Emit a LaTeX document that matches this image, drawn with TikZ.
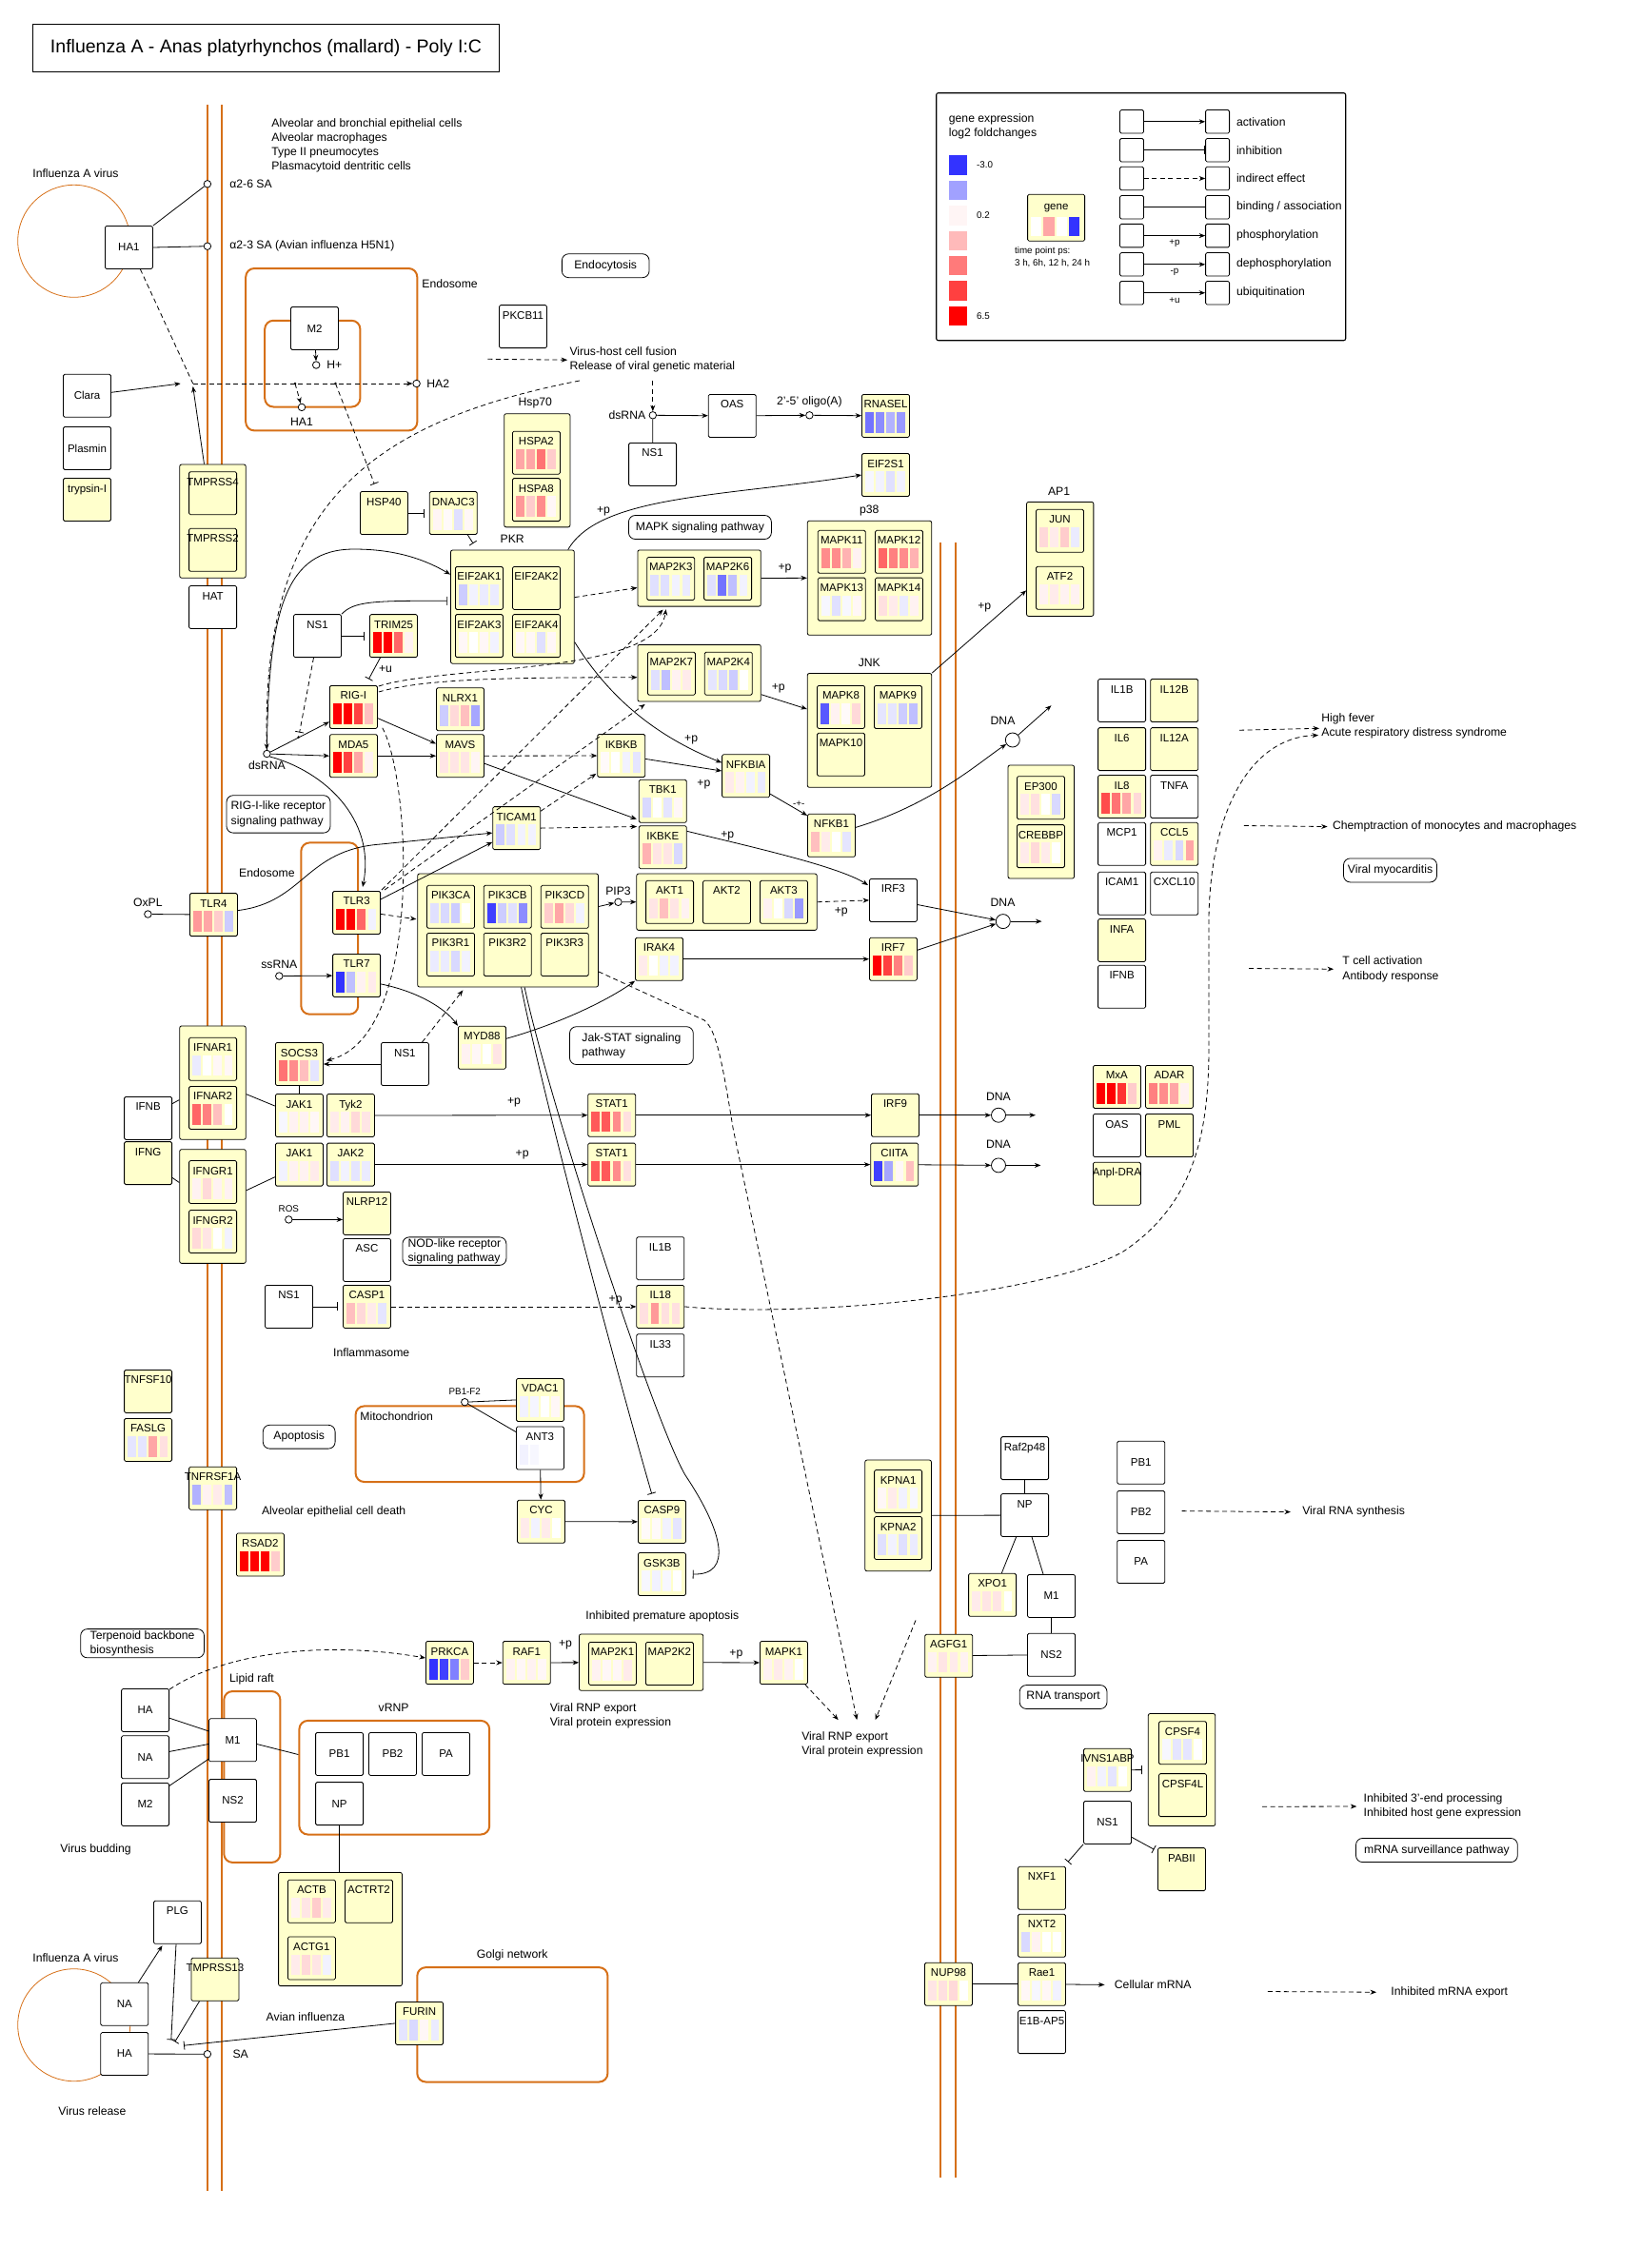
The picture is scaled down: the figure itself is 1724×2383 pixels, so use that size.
\documentclass[tikz,border=0pt]{standalone}
\usepackage{fontspec}
\setmainfont{Liberation Sans}
\usepackage{tikz}
\usetikzlibrary{calc, positioning, arrows.meta}
\definecolor{kyellow}{RGB}{255,255,204}
\definecolor{korange}{RGB}{214,112,24}
\newcommand{\gnfont}{\fontsize{11.5}{13}\selectfont}
\newcommand{\lbfont}{\fontsize{12.2}{15.2}\selectfont}
\newcommand{\smfont}{\fontsize{9.8}{12.3}\selectfont}
\newcommand{\bars}[5]{%
  \foreach \bc [count=\bi from 0] in {#2,#3,#4,#5}
    \fill[\bc] ([shift={(4+11.1*\bi,19)}]#1.north west) rectangle ++(8.7,21.5);%
}
\tikzset{
  gene/.style={draw, rounded corners=1.5pt, fill=kyellow, minimum width=50pt, minimum height=45pt,
    inner xsep=-8pt, inner ysep=1pt, text height=8.5pt, text depth=24.5pt, font=\gnfont},
  genew/.style={gene, fill=white},
  prot/.style={draw, rounded corners=1.5pt, fill=white, minimum width=50pt, minimum height=45pt,
    inner xsep=-8pt, font=\gnfont},
  grp/.style={draw, rounded corners=2pt, fill=kyellow, inner sep=0pt},
  comp/.style={draw=korange, line width=2pt, rounded corners=9pt},
  memb/.style={draw=korange, line width=2pt},
  pway/.style={draw, rounded corners=7pt, font=\lbfont, align=left, inner sep=2pt},
  cpd/.style={circle, draw, fill=white, minimum size=7.5pt, inner sep=0pt},
  dna/.style={circle, draw, fill=white, minimum size=15pt, inner sep=0pt},
  lab/.style={font=\lbfont, inner sep=1pt},
  note/.style={font=\lbfont, align=left, anchor=west, inner sep=0pt},
  dsh/.style={dash pattern=on 5pt off 3.5pt},
  act/.style={>={Stealth[length=6.5pt,width=5pt]}, ->},
  ind/.style={act, dsh},
  inh/.style={-{Bar[width=9pt]}},
  bind/.style={},
}
\begin{document}
\begin{tikzpicture}[x=1pt, y=-1pt, line width=0.8pt]
\useasboundingbox (0,0) rectangle (1724,2383);
\node[draw, minimum width=490pt, minimum height=50pt, font=\fontsize{19.5}{22}\selectfont] (title) at (279.5,50.3) {Influenza A - Anas platyrhynchos (mallard) - Poly I:C};

\draw[memb] (218.3,110) -- (218.3,2302);
\draw[memb] (233,110) -- (233,2302);
\draw[memb] (988,570) -- (988,2288);
\draw[memb] (1003.5,570) -- (1003.5,2288);
\draw[korange] (77.7,253.3) circle[radius=59pt];
\draw[korange] (77.7,2127.7) circle[radius=59pt];
\draw[comp] (258.2,282) rectangle (438.3,452.4);
\draw[comp] (278.2,336.8) rectangle (378.4,427.5);
\draw[comp] (316.3,885.4) rectangle (376.2,1065.7);
\draw[comp] (373.6,1477.4) rectangle (613.6,1557);
\draw[comp] (235.3,1777) rectangle (294.4,1956.9);
\draw[comp] (438.3,2067.1) rectangle (638.4,2187.5);
\node[comp, minimum width=199.8pt, minimum height=119.6pt] (vrnp) at (414.3,1867.7) {};

\node[grp, minimum width=69.5pt, minimum height=119.2pt] (tmpg) at (223.5,547.6) {};
\node[grp, minimum width=69.2pt, minimum height=119.1pt] (hsp70) at (564.3,494.3) {};
\node[grp, minimum width=129.8pt, minimum height=119.2pt] (pkr) at (538.4,637.6) {};
\node[grp, minimum width=129.4pt, minimum height=59.2pt] (m2k3g) at (734.6,607.5) {};
\node[grp, minimum width=129.4pt, minimum height=59.7pt] (m2k7g) at (734.6,707.2) {};
\node[grp, minimum width=130.5pt, minimum height=120pt] (p38) at (913.5,607.3) {};
\node[grp, minimum width=130.5pt, minimum height=119.8pt] (jnk) at (913.5,767.4) {};
\node[grp, minimum width=70.3pt, minimum height=120pt] (ap1) at (1113.7,587.4) {};
\node[grp, minimum width=69.5pt, minimum height=119pt] (ep300g) at (1093.8,863.5) {};
\node[grp, minimum width=189.7pt, minimum height=119pt] (pik3) at (533.6,977.5) {};
\node[grp, minimum width=189.4pt, minimum height=59.3pt] (aktg) at (763.5,947.7) {};
\node[grp, minimum width=69.5pt, minimum height=119.3pt] (ifnarg) at (223.5,1137.6) {};
\node[grp, minimum width=69.5pt, minimum height=119.7pt] (ifngrg) at (223.5,1267.5) {};
\node[grp, minimum width=69.6pt, minimum height=116.7pt] (kpnag) at (943.6,1592.4) {};
\node[grp, minimum width=130.2pt, minimum height=59.3pt] (m2k1g) at (673.6,1746.6) {};
\node[grp, minimum width=129.8pt, minimum height=119.2pt] (actin) at (357.5,2027) {};
\node[grp, minimum width=70.4pt, minimum height=118pt] (cpsfg) at (1241.5,1859.5) {};

\node[note] (cells) at (285,152.9) {Alveolar and bronchial epithelial cells\\Alveolar macrophages\\Type II pneumocytes\\Plasmacytoid dentritic cells};
\node[note] (iav1) at (34,182.5) {Influenza A virus};
\node[note] (iav2) at (34,2057.3) {Influenza A virus};
\node[note] (endo1t) at (443,297.7) {Endosome};
\node[lab] (endo2t) at (280.4,917.6) {Endosome};
\node[note] (mitot) at (378,1488.5) {Mitochondrion};
\node[lab] (lipidt) at (264.5,1764.8) {Lipid raft};
\node[lab] (vrnpt) at (413.6,1794.2) {vRNP};
\node[lab] (golgit) at (538.2,2054.6) {Golgi network};
\node[lab] (budt) at (100.6,1943.2) {Virus budding};
\node[lab] (relt) at (96.9,2218.4) {Virus release};
\node[lab] (aviant) at (321,2118.7) {Avian influenza};
\node[lab] (inflt) at (390.2,1421.5) {Inflammasome};
\node[lab] (deatht) at (350.7,1588.7) {Alveolar epithelial cell death};
\node[lab] (ipat) at (695.8,1698.6) {Inhibited premature apoptosis};
\node[note] (rnpa) at (577.4,1803) {Viral RNP export\\Viral protein expression};
\node[note] (rnpb) at (841.9,1833.2) {Viral RNP export\\Viral protein expression};
\node[note] (mrna) at (1170.5,2085.5) {Cellular mRNA};
\node[note] (fever) at (1388,763.1) {High fever\\Acute respiratory distress syndrome};
\node[note] (chemo) at (1399.6,868.6) {Chemptraction of monocytes and macrophages};
\node[note] (tcell) at (1410,1018.3) {T cell activation\\Antibody response};
\node[note] (vrs) at (1367.9,1588.7) {Viral RNA synthesis};
\node[note] (inh3e) at (1432.3,1898) {Inhibited 3'-end processing\\Inhibited host gene expression};
\node[note] (inhme) at (1461,2093.3) {Inhibited mRNA export};
\node[note] (fusion) at (598.1,378.2) {Virus-host cell fusion\\Release of viral genetic material};

\node[pway, minimum width=91.7pt, minimum height=24.9pt] (endocyt) at (636.2,279.2) {Endocytosis};
\node[pway, minimum width=150pt, minimum height=25pt] (mapkp) at (735.4,554) {MAPK signaling pathway};
\node[pway, minimum width=109pt, minimum height=39.4pt] (riglp) at (292.5,855.4) {RIG-I-like receptor\\signaling pathway};
\node[pway, minimum width=129.8pt, minimum height=39.8pt] (jakp) at (663.4,1098.6) {Jak-STAT signaling\\pathway};
\node[pway, minimum width=109pt, minimum height=29.5pt, inner ysep=0pt] (nodp) at (477.4,1314.6) {NOD-like receptor\\signaling pathway};
\node[pway, minimum width=75.8pt, minimum height=24.8pt] (apopp) at (314.2,1509.7) {Apoptosis};
\node[pway, minimum width=129.8pt, minimum height=30.2pt, inner ysep=0pt] (terpp) at (149.6,1726.7) {Terpenoid backbone\\biosynthesis};
\node[pway, minimum width=98pt, minimum height=25pt] (myop) at (1460.5,914.4) {Viral myocarditis};
\node[pway, minimum width=91.8pt, minimum height=24.9pt] (rnatp) at (1117.1,1783) {RNA transport};
\node[pway, minimum width=169.8pt, minimum height=25.1pt] (mrnap) at (1509.4,1944) {mRNA surveillance pathway};

\node[prot] (ha1v) at (135.4,260) {HA1};
\node[cpd] (a26) at (217.9,193.3) {};
\node[cpd] (a23) at (217.9,258.7) {};
\node[note] (a26t) at (241,193.3) {α2-6 SA};
\node[note] (a23t) at (241,258.7) {α2-3 SA (Avian influenza H5N1)};
\node[prot] (clara) at (91.5,415.8) {Clara};
\node[prot] (plasmin) at (91.5,471) {Plasmin};
\node[gene] (trypsin) at (91.5,525) {trypsin-I};
\node[gene] (tmprss4) at (223.6,518.2) {TMPRSS4};
\node[gene] (tmprss2) at (223.6,577.8) {TMPRSS2};
\node[genew] (hat) at (223.6,638) {HAT};
\node[prot] (m2e) at (330.5,345) {M2};
\node[cpd] (hplus) at (332.2,383.5) {};
\node[note] (hplust) at (343,383.5) {H+};
\node[cpd] (ha1e) at (317,427.9) {};
\node[lab] (ha1et) at (317,443) {HA1};
\node[cpd] (ha2) at (437.6,403) {};
\node[note] (ha2t) at (448,403) {HA2};
\node[genew] (pkcb11) at (549.5,343.1) {PKCB11};
\node[gene] (hsp40) at (403.4,539) {HSP40};
\node[gene] (dnajc3) at (476.3,539) {DNAJC3}; \bars{dnajc3}{red!4}{red!2}{blue!12}{red!3}
\node[lab] (hsp70t) at (562.3,423.6) {Hsp70};
\node[gene] (hspa2) at (563.4,475.7) {HSPA2}; \bars{hspa2}{red!35}{red!35}{red!55}{red!20}
\node[gene] (hspa8) at (563.4,525.1) {HSPA8}; \bars{hspa8}{red!40}{red!20}{red!45}{red!3}

\node[cpd] (dsrna2) at (685.8,436.3) {};
\node[lab] (dsrna2t) [left=2pt of dsrna2] {dsRNA};
\node[genew] (oas) at (769.2,436.9) {OAS};
\node[genew] (ns1a) at (685.6,487.9) {NS1};
\node[cpd] (oligo) at (850.4,436.3) {};
\node[lab] (oligot) [above=3pt of oligo] {2'-5' oligo(A)};
\node[gene] (rnasel) at (930.5,436.9) {RNASEL}; \bars{rnasel}{blue!55}{blue!45}{blue!30}{blue!40}
\node[gene] (eif2s1) at (930.5,499) {EIF2S1}; \bars{eif2s1}{blue!3}{blue!5}{blue!12}{blue!5}

\node[lab] (pkrt) at (538.2,566.4) {PKR};
\node[gene] (eif2ak1) at (503.4,617.9) {EIF2AK1}; \bars{eif2ak1}{blue!20}{blue!5}{blue!8}{blue!8}
\node[gene] (eif2ak2) at (563.5,617.9) {EIF2AK2};
\node[gene] (eif2ak3) at (503.4,668.1) {EIF2AK3}; \bars{eif2ak3}{red!3}{white}{red!3}{blue!5}
\node[gene] (eif2ak4) at (563.5,668.1) {EIF2AK4}; \bars{eif2ak4}{red!3}{red!3}{blue!12}{red!3}
\node[gene] (map2k3) at (704.7,607.9) {MAP2K3}; \bars{map2k3}{blue!12}{blue!12}{blue!5}{blue!8}
\node[gene] (map2k6) at (764.6,607.9) {MAP2K6}; \bars{map2k6}{blue!12}{blue!55}{blue!25}{blue!5}
\node[gene] (map2k7) at (705.4,707.7) {MAP2K7}; \bars{map2k7}{blue!12}{blue!25}{red!5}{red!8}
\node[gene] (map2k4) at (765.3,707.7) {MAP2K4}; \bars{map2k4}{blue!10}{blue!15}{blue!20}{white}
\node[lab] (p38t) at (913.3,536.5) {p38};
\node[gene] (mapk11) at (884.3,579.8) {MAPK11}; \bars{mapk11}{red!45}{red!45}{red!30}{red!5}
\node[gene] (mapk12) at (944.5,579.8) {MAPK12}; \bars{mapk12}{red!60}{red!50}{red!45}{red!30}
\node[gene] (mapk13) at (884.3,629.6) {MAPK13}; \bars{mapk13}{blue!3}{blue!12}{blue!3}{red!3}
\node[gene] (mapk14) at (944.5,629.6) {MAPK14}; \bars{mapk14}{red!12}{red!8}{blue!8}{red!5}
\node[lab] (jnkt) at (913.3,696.4) {JNK};
\node[gene] (mapk8) at (883.5,742.9) {MAPK8}; \bars{mapk8}{blue!65}{red!5}{red!2}{red!15}
\node[gene] (mapk9) at (943.4,742.9) {MAPK9}; \bars{mapk9}{blue!10}{blue!10}{blue!20}{blue!25}
\node[gene] (mapk10) at (883.5,792.7) {MAPK10};
\node[lab] (ap1t) at (1112.6,516.6) {AP1};
\node[gene] (jun) at (1113.5,557.8) {JUN}; \bars{jun}{red!15}{red!8}{red!20}{blue!8}
\node[gene] (atf2) at (1113.5,617.7) {ATF2}; \bars{atf2}{red!5}{red!8}{red!5}{red!5}

\node[genew] (ns1b) at (333.5,668.1) {NS1};
\node[gene] (trim25) at (413.5,668.1) {TRIM25}; \bars{trim25}{red}{red}{red!60}{red!5}
\node[gene] (rigi) at (371.4,742.9) {RIG-I}; \bars{rigi}{red}{red}{red!75}{red!25}
\node[gene] (mda5) at (371.4,794.2) {MDA5}; \bars{mda5}{red}{red!75}{red!35}{red!5}
\node[gene] (nlrx1) at (483.5,745.2) {NLRX1}; \bars{nlrx1}{blue!20}{red!15}{red!25}{blue!35}
\node[gene] (mavs) at (483.5,794.2) {MAVS}; \bars{mavs}{red!10}{red!10}{red!10}{red!4}
\node[cpd] (dsrna1) at (280.4,792) {};
\node[lab] (dsrna1t) [below=2pt of dsrna1] {dsRNA};

\node[cpd] (oxpl) at (155.4,960.5) {};
\node[lab] (oxplt) [above=2pt of oxpl] {OxPL};
\node[gene] (tlr4) at (224.4,961.1) {TLR4}; \bars{tlr4}{red!40}{red!35}{red!20}{blue!20}
\node[gene] (tlr3) at (374.6,958.9) {TLR3}; \bars{tlr3}{red}{red}{red!60}{blue!5}
\node[gene] (tlr7) at (374.6,1024.9) {TLR7}; \bars{tlr7}{blue!80}{blue!25}{red!5}{red!8}
\node[cpd] (ssrna) at (293.3,1025.5) {};
\node[lab] (ssrnat) [above=2pt of ssrna] {ssRNA};
\node[gene] (ticam1) at (542.7,870.1) {TICAM1}; \bars{ticam1}{blue!20}{blue!12}{blue!5}{blue!5}
\node[gene] (pik3ca) at (473.5,952.8) {PIK3CA}; \bars{pik3ca}{blue!12}{blue!15}{blue!20}{white}
\node[gene] (pik3cb) at (533.2,952.8) {PIK3CB}; \bars{pik3cb}{blue!75}{blue!20}{blue!12}{blue!45}
\node[gene] (pik3cd) at (593.3,952.8) {PIK3CD}; \bars{pik3cd}{red!20}{red!35}{red!15}{blue!5}
\node[gene] (pik3r1) at (473.5,1002.9) {PIK3R1}; \bars{pik3r1}{blue!8}{blue!8}{blue!15}{blue!5}
\node[gene] (pik3r2) at (533.2,1002.9) {PIK3R2};
\node[gene] (pik3r3) at (593.3,1002.9) {PIK3R3};
\node[genew] (ns1c) at (425.4,1118) {NS1};
\node[gene] (socs3) at (314.4,1118) {SOCS3}; \bars{socs3}{red!55}{red!45}{red!25}{blue!10}
\node[gene] (myd88) at (506.4,1100.7) {MYD88}; \bars{myd88}{red!5}{red!3}{white}{red!10}

\node[gene] (ikbkb) at (652.7,794) {IKBKB}; \bars{ikbkb}{red!2}{white}{blue!5}{blue!10}
\node[gene] (nfkbia) at (783.6,815.2) {NFKBIA}; \bars{nfkbia}{red!8}{red!5}{blue!5}{blue!8}
\node[gene] (nfkb1) at (873.5,877.8) {NFKB1}; \bars{nfkb1}{red!25}{red!8}{white}{blue!10}
\node[gene] (tbk1) at (696.3,841.8) {TBK1}; \bars{tbk1}{blue!15}{white}{blue!10}{red!3}
\node[gene] (ikbke) at (696.3,890.2) {IKBKE}; \bars{ikbke}{red!30}{red!10}{red!10}{blue!15}
\node[cpd] (pip3) at (649.5,947.8) {};
\node[lab] (pip3t) [above=2pt of pip3] {PIP3};
\node[gene] (akt1) at (703.6,947.8) {AKT1}; \bars{akt1}{red!10}{red!25}{red!10}{red!5}
\node[gene] (akt2) at (763.5,947.8) {AKT2};
\node[gene] (akt3) at (823.4,947.8) {AKT3}; \bars{akt3}{red!5}{white}{blue!15}{blue!40}
\node[genew] (irf3) at (938.4,945.9) {IRF3};
\node[gene] (irf7) at (938.4,1007.7) {IRF7}; \bars{irf7}{red}{red!75}{red!50}{red!20}
\node[gene] (irak4) at (692.5,1007.7) {IRAK4}; \bars{irak4}{red!8}{white}{blue!5}{blue!5}
\node[dna] (dna1) at (1063.8,777.5) {};
\node[lab] (dna1t) at (1053.5,757.2) {DNA};
\node[dna] (dna2) at (1053.8,968.1) {};
\node[lab] (dna2t) at (1053.5,947.8) {DNA};
\node[dna] (dna3) at (1049,1171.7) {};
\node[lab] (dna3t) at (1049,1152.6) {DNA};
\node[dna] (dna4) at (1049,1224.4) {};
\node[lab] (dna4t) at (1049,1202.2) {DNA};

\node[genew] (il1b) at (1178.6,736) {IL1B};
\node[gene] (il12b) at (1233.7,736) {IL12B};
\node[gene] (il6) at (1178.6,787.1) {IL6};
\node[gene] (il12a) at (1233.7,787.1) {IL12A};
\node[gene] (il8) at (1178.6,837) {IL8}; \bars{il8}{red!70}{red!55}{red!35}{red!15}
\node[genew] (tnfa) at (1233.7,837) {TNFA};
\node[genew] (mcp1) at (1178.6,886.8) {MCP1};
\node[gene] (ccl5) at (1233.7,886.8) {CCL5}; \bars{ccl5}{red!5}{blue!8}{blue!15}{red!35}
\node[genew] (icam1) at (1178.6,938.8) {ICAM1};
\node[genew] (cxcl10) at (1233.7,938.8) {CXCL10};
\node[gene] (infa) at (1178.6,988) {INFA};
\node[genew] (ifnb2) at (1178.6,1036.8) {IFNB};
\node[gene] (ep300) at (1093.4,838.2) {EP300}; \bars{ep300}{red!8}{red!12}{white}{blue!15}
\node[gene] (crebbp) at (1093.4,889.1) {CREBBP}; \bars{crebbp}{red!8}{red!15}{red!8}{white}
\node[gene] (mxa) at (1173.4,1141.9) {MxA}; \bars{mxa}{red}{red}{red!80}{red!20}
\node[gene] (adar) at (1228.5,1141.9) {ADAR}; \bars{adar}{red!50}{red!45}{red!35}{red!5}
\node[genew] (oas2) at (1173.4,1193) {OAS};
\node[gene] (pml) at (1228.5,1193) {PML};
\node[gene] (anpl) at (1173.4,1243.7) {Anpl-DRA};

\node[genew] (ifnb) at (155.6,1174.9) {IFNB};
\node[gene] (ifnar1) at (223.6,1112.8) {IFNAR1}; \bars{ifnar1}{blue!8}{white}{red!3}{red!3}
\node[gene] (ifnar2) at (223.6,1163.9) {IFNAR2}; \bars{ifnar2}{red!60}{red!50}{red!25}{white}
\node[gene] (jak1a) at (314.4,1172) {JAK1}; \bars{jak1a}{blue!3}{red!5}{red!5}{red!3}
\node[gene] (tyk2) at (368.4,1172) {Tyk2}; \bars{tyk2}{red!8}{red!5}{red!15}{red!10}
\node[gene] (stat1a) at (642.7,1171.7) {STAT1}; \bars{stat1a}{red!65}{red!65}{red!45}{red!12}
\node[gene] (irf9) at (940.5,1171.7) {IRF9};
\node[gene] (ifng) at (155.6,1222.1) {IFNG};
\node[gene] (ifngr1) at (223.6,1242) {IFNGR1}; \bars{ifngr1}{red!5}{red!15}{red!5}{red!5}
\node[gene] (ifngr2) at (223.6,1294) {IFNGR2}; \bars{ifngr2}{red!15}{red!10}{white}{blue!5}
\node[gene] (jak1b) at (314.4,1223.6) {JAK1}; \bars{jak1b}{blue!5}{red!5}{red!5}{red!8}
\node[gene] (jak2) at (368.4,1223.6) {JAK2}; \bars{jak2}{blue!12}{blue!5}{blue!10}{blue!8}
\node[gene] (stat1b) at (642.7,1223.6) {STAT1}; \bars{stat1b}{red!65}{red!65}{red!45}{red!12}
\node[gene] (ciita) at (939.7,1223.6) {CIITA}; \bars{ciita}{blue!75}{blue!35}{red!3}{red!25}

\node[cpd] (ros) at (303.3,1281.4) {};
\node[lab, font=\smfont] (rost) [above=2pt of ros] {ROS};
\node[gene] (nlrp12) at (385.5,1274.9) {NLRP12};
\node[genew] (asc) at (385.5,1323.9) {ASC};
\node[genew] (ns1d) at (303.5,1372.9) {NS1};
\node[gene] (casp1) at (385.5,1372.9) {CASP1}; \bars{casp1}{red!25}{red!15}{red!8}{blue!10}
\node[genew] (il1b2) at (693.8,1322.2) {IL1B};
\node[gene] (il18) at (693.8,1372.9) {IL18}; \bars{il18}{red!12}{red!40}{red!12}{red!12}
\node[genew] (il33) at (693.8,1424.2) {IL33};

\node[gene] (tnfsf10) at (155.6,1461.9) {TNFSF10};
\node[gene] (faslg) at (155.6,1512.9) {FASLG}; \bars{faslg}{blue!10}{blue!10}{red!35}{red!12}
\node[gene] (tnfrsf1a) at (223.6,1563.7) {TNFRSF1A}; \bars{tnfrsf1a}{blue!30}{red!5}{red!8}{blue!25}
\node[cpd] (pbf2) at (488.3,1473.2) {};
\node[lab, font=\smfont] (pbf2t) [above=2pt of pbf2] {PB1-F2};
\node[gene] (vdac1) at (567.4,1470.9) {VDAC1}; \bars{vdac1}{blue!5}{blue!4}{white}{red!3}
\node[genew] (ant3) at (567.4,1521.4) {ANT3}; \bars{ant3}{blue!5}{blue!3}{white}{white}
\node[gene] (cyc) at (568.5,1598.7) {CYC}; \bars{cyc}{red!8}{blue!5}{red!8}{white}
\node[gene] (casp9) at (695.4,1598.9) {CASP9}; \bars{casp9}{red!2}{red!2}{blue!5}{blue!10}
\node[gene] (gsk3b) at (695.4,1654) {GSK3B}; \bars{gsk3b}{blue!3}{blue!5}{blue!3}{white}
\node[gene] (rsad2) at (273.4,1633.5) {RSAD2}; \bars{rsad2}{red}{red}{red}{red!20}

\node[gene] (prkca) at (472.4,1747) {PRKCA}; \bars{prkca}{blue!80}{blue!75}{blue!50}{red!20}
\node[gene] (raf1) at (553.2,1747) {RAF1}; \bars{raf1}{red!5}{red!3}{red!5}{red!3}
\node[gene] (map2k1) at (643.5,1747.9) {MAP2K1}; \bars{map2k1}{red!5}{red!3}{red!3}{red!8}
\node[gene] (map2k2) at (703.4,1747.9) {MAP2K2};
\node[gene] (mapk1) at (823.4,1747) {MAPK1}; \bars{mapk1}{red!5}{red!8}{red!5}{white}

\node[gene] (kpna1) at (943.6,1567) {KPNA1}; \bars{kpna1}{red!3}{red!8}{blue!5}{blue!3}
\node[gene] (kpna2) at (943.6,1616) {KPNA2}; \bars{kpna2}{blue!12}{blue!5}{blue!12}{blue!8}
\node[genew] (raf2p48) at (1076.6,1532.1) {Raf2p48};
\node[genew] (npn) at (1076.6,1592) {NP};
\node[gene] (xpo1) at (1042.6,1675.8) {XPO1}; \bars{xpo1}{red!8}{red!10}{red!10}{white}
\node[prot] (m1n) at (1104.5,1676.9) {M1};
\node[prot] (ns2n) at (1104.5,1738.7) {NS2};
\node[gene] (agfg1) at (996.7,1739.7) {AGFG1}; \bars{agfg1}{red!5}{red!10}{red!8}{red!5}
\node[prot] (pb1r) at (1198.7,1536.7) {PB1};
\node[prot] (pb2r) at (1198.7,1588.9) {PB2};
\node[prot] (par) at (1198.7,1641) {PA};

\node[prot] (hab) at (152.6,1797) {HA};
\node[prot] (nab) at (152.6,1846.3) {NA};
\node[prot] (m2b) at (152.6,1895.9) {M2};
\node[prot] (m1b) at (244.5,1828.3) {M1};
\node[prot] (ns2b) at (244.5,1892) {NS2};
\node[prot] (pb1v) at (356.6,1842.9) {PB1};
\node[prot] (pb2v) at (412.5,1842.9) {PB2};
\node[prot] (pav) at (468.5,1842.9) {PA};
\node[prot] (npv) at (356.6,1895.1) {NP};
\node[gene] (actb) at (327.4,1997.7) {ACTB}; \bars{actb}{red!5}{red!10}{red!20}{red!8}
\node[gene] (actrt2) at (387.5,1997.7) {ACTRT2};
\node[gene] (actg1) at (327.4,2057.5) {ACTG1}; \bars{actg1}{red!8}{red!15}{red!10}{blue!5}
\node[genew] (plg) at (186.4,2019.8) {PLG};
\node[prot] (nar) at (130.8,2105.8) {NA};
\node[prot] (har) at (130.8,2158) {HA};
\node[gene] (tmp13) at (225.9,2079.8) {TMPRSS13};
\node[cpd] (sa) at (217.9,2158.2) {};
\node[note] (sat) at (244.1,2158.2) {SA};
\node[gene] (furin) at (440.6,2125.9) {FURIN}; \bars{furin}{blue!10}{blue!15}{red!3}{blue!8}

\node[gene] (nup98) at (996.5,2084.7) {NUP98}; \bars{nup98}{red!10}{red!12}{red!15}{white}
\node[gene] (rae1) at (1094.5,2084.7) {Rae1}; \bars{rae1}{red!3}{blue!3}{red!3}{blue!5}
\node[gene] (nxf1) at (1094.5,1983.8) {NXF1};
\node[gene] (nxt2) at (1094.5,2033.7) {NXT2}; \bars{nxt2}{blue!15}{red!5}{white}{white}
\node[genew] (e1bap5) at (1094.5,2135.1) {E1B-AP5};
\node[gene] (ivns) at (1163.5,1859.7) {IVNS1ABP}; \bars{ivns}{red!5}{blue!5}{blue!10}{white}
\node[prot] (ns1n) at (1163.5,1914.9) {NS1};
\node[gene] (pabii) at (1241.5,1964.1) {PABII};
\node[gene] (cpsf4) at (1242.5,1831.2) {CPSF4}; \bars{cpsf4}{blue!3}{blue!10}{blue!10}{white}
\node[gene] (cpsf4l) at (1242.5,1886.1) {CPSF4L};

\node[draw, rounded corners=2pt, line width=1.1pt, minimum width=430pt, minimum height=260pt] (legend) at (1198.7,227.7) {};
\node[note] (legt) at (996.5,133.2) {gene expression\\log2 foldchanges};
\foreach \cc [count=\k from 0] in {blue!80, blue!37, red!4, red!27, red!52, red!75, red}
  \fill[\cc] (996.5,163.4+26.4*\k) rectangle ++(19.2,20.3);
\node[note, font=\smfont] (lgm) at (1025.7,173.4) {-3.0};
\node[note, font=\smfont] (lgz) at (1025.7,226.6) {0.2};
\node[note, font=\smfont] (lgp) at (1025.7,332.2) {6.5};
\node[gene, minimum width=60pt, minimum height=49pt] (leggene) at (1109.6,228.7) {gene};
\foreach \bc [count=\bi from 0] in {white, red!35, white, blue!80}
  \fill[\bc] ([shift={(3.7+13.4*\bi,24)}]leggene.north west) rectangle ++(11.2,20.5);
\node[note, font=\smfont] (legtp) at (1065.7,270.2) {time point ps:\\3 h, 6h, 12 h, 24 h};
\foreach \yy/\st/\mk/\tx [count=\k] in {127.8/act//activation, 157.7/inh//inhibition, 187.5/ind//indirect effect, 217.8/bind//{binding / association}, 247.6/act/+p/phosphorylation, 277.8/act/-p/dephosphorylation, 307.7/act/+u/ubiquitination} {
  \node[draw, rounded corners=1.5pt, minimum width=25pt, minimum height=24.5pt] (lga\k) at (1189,\yy) {};
  \node[draw, rounded corners=1.5pt, minimum width=25pt, minimum height=24.5pt] (lgb\k) at (1279.1,\yy) {};
  \draw[\st] (lga\k) -- (lgb\k) node[midway, below=1pt, font=\smfont] {\mk};
  \node[note] (lgt\k) at (1298.6,\yy) {\tx};
}

\node[lab] (pp1) at (634,537.7) {+p};
\node[lab] (pp2) at (824.5,597.7) {+p};
\node[lab] (pp3) at (817.8,723.6) {+p};
\node[lab] (pp4) at (1034.2,637.8) {+p};
\node[lab] (pp5) at (726.1,777.1) {+p};
\node[lab] (pp6) at (739.4,824.2) {+p};
\node[lab] (pp7) at (764.2,877.8) {+p};
\node[lab] (pp8) at (883.7,958.2) {+p};
\node[lab] (pp9) at (540,1158.3) {+p};
\node[lab] (pp10) at (548.6,1212.9) {+p};
\node[lab] (pp11) at (646.6,1366.4) {+p};
\node[lab] (pp12) at (594,1728) {+p};
\node[lab] (pp13) at (773.4,1738) {+p};
\node[lab] (pu1) at (405,702.9) {+u};
\node[lab, font=\smfont] (dis1) at (839.3,844.5) {-+-};

\coordinate (j1) at (202.7,403);
\coordinate (j2) at (310,403);
\coordinate (j3) at (352.5,403);
\draw (ha1v.north east) -- (a26);
\draw (ha1v.east) -- (a23);
\draw[dsh] ($(ha1v.south)+(12,0)$) -- (j1);
\draw[act] ($(clara.east)+(0,-3.5)$) -- ($(j1)+(-13,0)$);
\draw[act] ($(tmpg.north)+(-9,0)$) -- ($(j1)+(0,3)$);
\draw[ind] (j1) -- (ha2);
\draw[ind] (j2) -- (ha1e);
\fill (j2) circle[radius=1.4pt];
\fill (j3) circle[radius=1.4pt];
\draw[act] (m2e) -- (hplus);
\draw[inh, dsh] (j3) -- ($(hsp40.north)+(-10,-7.6)$);
\draw[inh, shorten >=5pt] (hsp40) -- (dnajc3);
\draw[inh] ($(dnajc3.south)+(15,0)$) -- ($(pkr.north west)+(24,-6.6)$);

\coordinate (fus0) at (512.3,377.3);
\coordinate (fus1) at (608.8,400);
\coordinate (fus2) at (685.8,400);
\draw[ind, shorten >=2pt] (fus0) -- (fusion.west);
\draw[ind] (fus1) .. controls (379,445) and (275,538) .. (dsrna1);
\draw[ind] (fus2) -- (dsrna2);
\draw[act] (dsrna2) -- (oas);
\draw[act] (oas) -- (oligo);
\draw[act] (oligo) -- (rnasel);
\draw (dsrna2) -- (ns1a);

\draw[act] ($(pkr.north east)+(-7,0)$) .. controls (630,520) and (760,522) .. (eif2s1.west);
\draw[ind] ($(pkr.east)+(0,-10)$) -- ($(m2k3g.west)+(0,10)$);
\draw[act] ($(pkr.south east)+(0,-23)$) .. controls (635,725) and (680,770) .. ($(nfkbia.north west)+(0,9)$);
\draw[act] (m2k3g.east) -- (p38.west);
\draw[act] ($(m2k7g.east)+(0,22.5)$) -- ($(jnk.west)+(0,-22.4)$);
\draw[act] (jnk.north east) -- ($(ap1.west)+(0,33)$);
\draw[act] (dsrna1.north) .. controls (282,640) and (300,577) .. (372,577) .. controls (420,577) and (450,590) .. ($(pkr.west)+(0,-34)$);

\draw[inh, shorten >=5pt] (ns1b) -- (trim25);
\draw[inh] (ns1b.north east) .. controls (372,632) and (390,631) .. ($(pkr.west)+(-3,-6.3)$);
\draw[inh] ($(trim25.south)+(-14,0)$) -- ($(rigi.north)+(16,-6.5)$);
\coordinate (dot1) at (313.7,774.5);
\draw[act] (dsrna1) -- ($(rigi.west)+(0,15.5)$);
\fill (dot1) circle[radius=1.4pt];
\draw[act] (dsrna1) -- (mda5.west);
\draw[inh, dsh, shorten >=5pt] ($(ns1b.south)+(-4,0)$) -- (dot1);
\draw[act] ($(rigi.east)+(0,11.7)$) -- ($(mavs.west)+(0,-12.8)$);
\draw[act] (mda5) -- (mavs);
\draw[ind] ($(rigi.north east)+(1,1)$) .. controls (470,698) and (690,710) .. ($(m2k3g.south)+(-35,2.7)$);
\draw[ind] ($(rigi.north east)+(1,7)$) .. controls (450,712) and (550,712) .. ($(m2k7g.west)+(0,4.5)$);
\draw[ind] ($(rigi.south east)+(5,-1)$) .. controls (432,820) and (445,1090) .. ($(socs3.east)+(3,-3.7)$);
\draw[ind] (mavs.east) -- (ikbkb.west);
\draw[act] ($(mavs.east)+(0,8)$) -- ($(tbk1.south west)+(-2,-4)$);

\draw[act] (dsrna1.south east) .. controls (340,810) and (395,860) .. ($(tlr3.north)+(6.4,-4)$);
\draw (oxpl) -- (tlr4);
\draw[act] ($(tlr4.east)+(0,-4.5)$) .. controls (320,948) and (320,893) .. (400,887) -- ($(ticam1.west)+(0,5)$);
\draw[act] ($(tlr3.east)+(0,-14)$) -- ($(ticam1.west)+(0,14.6)$);
\draw[ind] ($(tlr3.east)+(0,1.5)$) -- ($(pik3.west)+(-1,-11.7)$);
\draw[ind] ($(tlr3.north east)+(1,-1)$) -- ($(m2k3g.south)+(-38,3)$);
\draw[ind] ($(tlr3.north east)+(4,-1)$) -- ($(m2k7g.south)+(-57,2.5)$);
\draw[ind] ($(ticam1.north east)+(0,5)$) -- ($(ikbkb.south west)+(-1,-4)$);
\draw[ind] (ticam1.east) -- ($(ikbke.north west)+(-1.8,1.2)$);
\draw[act] (ssrna) -- (tlr7);
\draw[act] ($(tlr7.east)+(0,9)$) .. controls (440,1042) and (468,1060) .. (myd88.north west);
\draw[act] ($(myd88.east)+(0,-9.4)$) .. controls (590,1075) and (640,1050) .. (irak4.south west);
\draw[act] (ns1c) -- (socs3);
\draw[ind] ($(ns1c.north)+(18,0)$) -- ($(pik3.south west)+(48,3)$);

\draw[act] ($(pik3.east)+(0,-25)$) -- (pip3);
\draw[act] (pip3) -- (aktg.west);
\draw[ind] (aktg.east) -- (irf3.west);
\draw[act] ($(ikbkb.east)+(0,3.4)$) -- ($(nfkbia.west)+(0,-5.2)$);
\draw[act] ($(nfkbia.south east)+(0,-4)$) -- ($(nfkb1.north west)+(0,2)$);
\draw[act] ($(nfkb1.east)+(0,-8.4)$) .. controls (980,845) and (1030,800) .. (dna1);
\coordinate (o1) at (1104.5,741.2);
\draw[act] (dna1) -- (o1);
\draw[act] ($(ikbke.north east)+(0,6)$) .. controls (790,890) and (880,910) .. ($(irf3.north west)+(-1,7)$);
\draw[act] ($(irf3.east)+(0,4.6)$) -- (dna2);
\draw[act] ($(irf7.east)+(0,-9.4)$) -- (dna2);
\coordinate (o2) at (1094.5,968.1);
\draw[act] (dna2) -- (o2);
\draw[act] (irak4) -- (irf7);

\coordinate (rnp1) at (880.7,1807.1);
\coordinate (rnp2) at (900.3,1807.1);
\coordinate (rnp3) at (919.6,1807.1);
\draw[ind] ($(pik3.south east)+(0,-16.5)$) -- (740,1072) .. controls (752,1082) and (758,1110) .. (770,1185) -- (rnp2);
\draw[inh] ($(pik3.south)+(14,0)$) .. controls (570,1150) and (650,1450) .. ($(casp9.north)+(-10.7,-6.5)$);
\draw[inh] ($(pik3.south)+(17.5,0)$) .. controls (580,1170) and (690,1500) .. (720,1550) .. controls (760,1610) and (770,1655) .. ($(gsk3b.east)+(7,0)$);

\draw ($(ifnb.north east)+(0,7.6)$) -- ($(ifnarg.west)+(0,18)$);
\draw ($(ifnarg.east)+(0,12)$) -- ($(jak1a.west)+(0,-9.9)$);
\draw (socs3) -- (jak1a);
\draw[act] (tyk2) -- (stat1a);
\draw[act] (stat1a) -- (irf9);
\draw[act] (irf9) -- (dna3);
\coordinate (o3) at (1087.9,1171.7);
\draw[act] (dna3) -- (o3);
\draw ($(ifng.east)+(0,15.3)$) -- ($(ifngrg.west)+(0,-25)$);
\draw ($(ifngrg.east)+(0,-16.7)$) -- ($(jak1b.west)+(0,13)$);
\draw[act] (jak2) -- (stat1b);
\draw[act] (stat1b) -- (ciita);
\draw[act] (ciita) -- (dna4);
\coordinate (o4) at (1093.4,1224.4);
\draw[act] (dna4) -- (o4);

\draw[act] (ros) -- (ros -| nlrp12.west);
\draw[inh, shorten >=5pt] (ns1d) -- (casp1);
\draw[ind] (casp1) -- (il18);
\draw[ind] (il18.east) .. controls (850,1385) and (1100,1360) .. (1180,1315) .. controls (1255,1265) and (1270,1190) .. (1270,1100) -- (1270,980) .. controls (1268,860) and (1310,775) .. ($(fever.west)+(-3,9.4)$);
\draw (pbf2) -- (vdac1.west);
\draw (pbf2) -- ($(ant3.north west)+(0,6)$);
\draw[act] (ant3) -- (cyc);
\draw[act] (cyc) -- (casp9);

\draw[ind] ($(hab.north east)+(0,1)$) .. controls (230,1740) and (330,1722) .. ($(prkca.west)+(0,-5)$);
\draw[ind] (prkca) -- (raf1);
\draw[act] (raf1) -- (m2k1g);
\draw[act] (m2k1g) -- (mapk1);
\draw[ind] ($(mapk1.south east)+(-3,0)$) -- (rnp1);
\coordinate (agf0) at (962,1702.4);
\draw[ind] (agf0) -- (rnp3);

\draw ($(hab.east)+(0,8.2)$) -- ($(m1b.west)+(0,-9.4)$);
\draw ($(nab.east)+(0,-5.9)$) -- ($(m1b.west)+(0,4.2)$);
\draw ($(m2b.east)+(0,-19.6)$) -- ($(m1b.west)+(0,19.9)$);
\draw ($(m1b.east)+(0,4.2)$) -- ($(vrnp.west)+(0,-24.2)$);
\draw (npv.south) -- (npv.south |- actin.north);
\draw[act] ($(nar.north)+(14.6,0)$) -- ($(plg.south west)+(9.5,1.5)$);
\coordinate (ih1) at (179.8,2143.3);
\coordinate (ih2) at (183.8,2145.3);
\coordinate (ih3) at (193.1,2149.2);
\draw[inh] ($(plg.south)+(-1.4,0)$) -- (ih1);
\draw[inh] ($(tmp13.south west)+(9,0)$) -- (ih2);
\draw[inh] (furin.west) -- (ih3);
\draw (har) -- (sa);

\draw (kpnag) -- (npn);
\draw (raf2p48) -- (npn);
\draw ($(npn.south)+(-9,0)$) -- ($(xpo1.north)+(9.7,0)$);
\draw ($(npn.south)+(7.4,0)$) -- ($(m1n.north)+(-8.5,0)$);
\draw (m1n) -- (ns2n);
\draw (agfg1) -- (ns2n);
\draw (nup98) -- (rae1);
\draw[act, shorten >=10pt] (rae1) -- (mrna.west);
\draw[inh] (ns1n.south west) -- ($(nxf1.north east)+(2,-4.6)$);
\draw[inh] ($(ns1n.east)+(0,15.4)$) -- ($(pabii.north west)+(-3.7,2)$);
\draw[inh, shorten >=6pt] (ivns) -- (cpsfg);

\coordinate (fev0) at (1302,767.2);
\draw[ind] (fev0) -- ($(fever.west)+(-2,2.2)$);
\coordinate (chm0) at (1306.8,867.5);
\draw[ind, shorten >=5pt] (chm0) -- (chemo.west);
\coordinate (tc0) at (1312,1017.5);
\draw[ind, shorten >=9pt] (tc0) -- (tcell.west);
\coordinate (vrs0) at (1241.7,1587.6);
\draw[ind, shorten >=12pt] (vrs0) -- (vrs.west);
\coordinate (i3e0) at (1326.2,1898.2);
\draw[ind, shorten >=7pt] (i3e0) -- (inh3e.west);
\coordinate (ime0) at (1331.8,2092.5);
\draw[ind, shorten >=15pt] (ime0) -- (inhme.west);
\end{tikzpicture}
\end{document}
